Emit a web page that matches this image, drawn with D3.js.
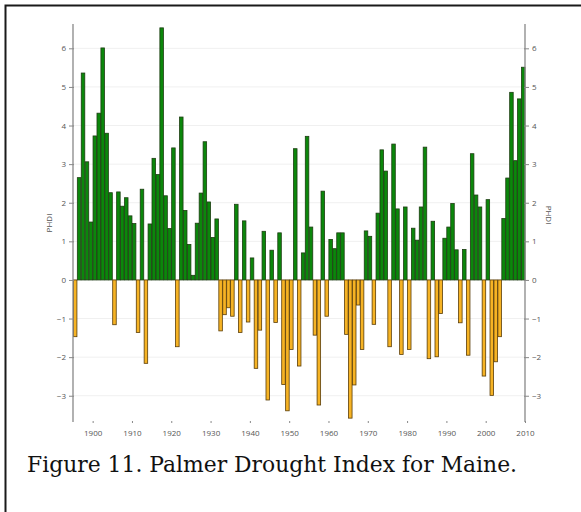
<!DOCTYPE html>
<html><head><meta charset="utf-8">
<script src="https://cdn.jsdelivr.net/npm/d3@7"></script>
<style>body{margin:0;background:#fff}svg{display:block}</style>
</head><body>
<svg id="c" width="581" height="512"></svg>
<script>
const firstYear = 1895;
const phdi = [
 -1.47, 2.65, 5.36, 3.06, 1.50, 3.73, 4.32, 6.01, 3.80, 2.26,
 -1.16, 2.28, 1.91, 2.13, 1.66, 1.46, -1.36, 2.35, -2.16, 1.45,
 3.15, 2.73, 6.53, 2.18, 1.33, 3.42, -1.73, 4.22, 1.80, 0.92,
 0.12, 1.47, 2.25, 3.58, 2.02, 1.10, 1.58, -1.32, -0.90, -0.72,
 -0.94, 1.96, -1.36, 1.53, -1.09, 0.57, -2.29, -1.30, 1.26, -3.11,
 0.77, -1.10, 1.22, -2.71, -3.39, -1.80, 3.40, -2.23, 0.70, 3.72,
 1.37, -1.43, -3.24, 2.30, -0.94, 1.05, 0.81, 1.22, 1.22, -1.41,
 -3.58, -2.72, -0.65, -1.80, 1.27, 1.13, -1.15, 1.73, 3.37, 2.82,
 -1.73, 3.52, 1.84, -1.93, 1.89, -1.80, 1.34, 1.03, 1.89, 3.44,
 -2.04, 1.52, -1.99, -0.87, 1.08, 1.37, 1.98, 0.78, -1.11, 0.79,
 -1.95, 3.27, 2.20, 1.89, -2.49, 2.08, -2.99, -2.12, -1.47, 1.59,
 2.64, 4.86, 3.09, 4.69, 5.51
];
const years = phdi.map((_, i) => firstYear + i);
const xTicks = [1900, 1910, 1920, 1930, 1940, 1950, 1960, 1970, 1980, 1990, 2000, 2010];
const yTicks = [-3, -2, -1, 0, 1, 2, 3, 4, 5, 6];
const yLabel = "PHDI";
const caption = "Figure 11. Palmer Drought Index for Maine.";

const svg = d3.select("#c");
const x = d3.scaleLinear().domain([1895, 2010]).range([73, 525]);
const y = d3.scaleLinear().domain([-3.68, 6.63]).range([422, 24]);

// frame
svg.append("path").attr("d", "M5.5,520 L5.5,5.5 L590,5.5")
  .attr("fill", "none").attr("stroke", "#1a1a1a").attr("stroke-width", 2);

// grid
svg.append("g").selectAll("line").data(yTicks).join("line")
  .attr("x1", x(1895)).attr("x2", x(2010))
  .attr("y1", d => y(d)).attr("y2", d => y(d))
  .attr("stroke", "#f0f0f0").attr("stroke-width", 1);

// bars
svg.append("g").selectAll("rect").data(years).join("rect")
  .attr("x", (d) => x(d) + 0.4)
  .attr("width", (d) => x(d + 1) - x(d) - 0.4)
  .attr("y", (d, i) => y(Math.max(0, phdi[i])))
  .attr("height", (d, i) => Math.abs(y(phdi[i]) - y(0)))
  .attr("fill", (d, i) => phdi[i] >= 0 ? "#0b870b" : "#f6b324")
  .attr("stroke", (d, i) => phdi[i] >= 0 ? "#1d3d12" : "#5a3d08")
  .attr("stroke-width", 0.8);

const tickFont = "'Open Sans', sans-serif";
// left axis
const yl = d3.axisLeft(y).tickValues(yTicks).tickSize(4).tickPadding(3).tickFormat(d3.format("d"));
const gl = svg.append("g").attr("transform", `translate(${x(1895)},0)`).call(yl);
// right axis
const yr = d3.axisRight(y).tickValues(yTicks).tickSize(4).tickPadding(3).tickFormat(d3.format("d"));
const gr = svg.append("g").attr("transform", `translate(${x(2010)},0)`).call(yr);
[gl, gr].forEach(g => {
  g.select(".domain").attr("stroke", "#888").attr("stroke-width", 1.3)
    .attr("d", `M0,${y.range()[1]}V${y.range()[0]}`);
  g.selectAll(".tick line").attr("stroke", "#888");
  g.selectAll(".tick text").attr("fill", "#555").style("font-family", tickFont).style("font-size", "8px");
});
gl.selectAll(".tick line").attr("x2", -4).attr("x1", 1);
gr.selectAll(".tick line").attr("x1", -1).attr("x2", 4);

// x axis (ticks only)
const gx = svg.append("g").attr("transform", "translate(0,423)")
  .call(d3.axisBottom(x).tickValues(xTicks).tickSize(-2).tickPadding(7).tickFormat(d3.format("d")));
gx.select(".domain").remove();
gx.selectAll(".tick line").attr("stroke", "#888");
gx.selectAll(".tick text").attr("fill", "#555").style("font-family", tickFont).style("font-size", "8px");

// y labels
svg.append("text").attr("transform", "translate(52,223) rotate(-90)")
  .attr("text-anchor", "middle").attr("fill", "#555")
  .style("font-family", tickFont).style("font-size", "8px").text(yLabel);
svg.append("text").attr("transform", "translate(546,215) rotate(90)")
  .attr("text-anchor", "middle").attr("fill", "#555")
  .style("font-family", tickFont).style("font-size", "8px").text(yLabel);

// caption
const cap = svg.append("text").attr("x", 27).attr("y", 472)
  .attr("fill", "#111").style("font-family", "'DejaVu Serif', serif").style("font-size", "20px")
  .text(caption);
const w = cap.node().getComputedTextLength();
cap.style("font-size", (20 * 490 / w).toFixed(2) + "px");
</script>
</body></html>
